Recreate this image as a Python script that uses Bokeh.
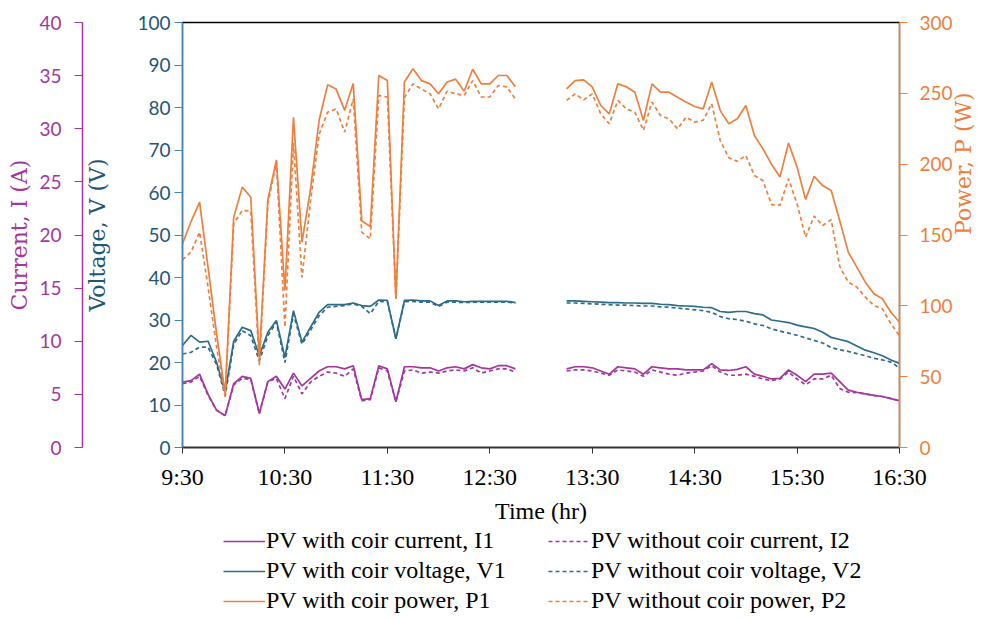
import math
from bokeh.plotting import figure
from bokeh.layouts import column
from bokeh.models import Range1d, LinearAxis, FixedTicker, Legend, LegendItem
from bokeh.embed import file_html
from bokeh.resources import INLINE

# ---------------- data ----------------
TIME_AM = ["9:30", "9:35", "9:40", "9:45", "9:50", "9:55", "10:00", "10:05", "10:10", "10:15",
           "10:20", "10:25", "10:30", "10:35", "10:40", "10:45", "10:50", "10:55", "11:00", "11:05",
           "11:10", "11:15", "11:20", "11:25", "11:30", "11:35", "11:40", "11:45", "11:50", "11:55",
           "12:00", "12:05", "12:10", "12:15", "12:20", "12:25", "12:30", "12:35", "12:40", "12:45"]
TIME_PM = ["13:15", "13:20", "13:25", "13:30", "13:35", "13:40", "13:45", "13:50", "13:55", "14:00",
           "14:05", "14:10", "14:15", "14:20", "14:25", "14:30", "14:35", "14:40", "14:45", "14:50",
           "14:55", "15:00", "15:05", "15:10", "15:15", "15:20", "15:25", "15:30", "15:35", "15:40",
           "15:45", "15:50", "15:55", "16:00", "16:05", "16:10", "16:15", "16:20", "16:25", "16:30"]
TICK_LABELS = ["9:30", "10:30", "11:30", "12:30", "13:30", "14:30", "15:30", "16:30"]

# Current (A)
I1_AM = [6.15, 6.3, 6.9, 5.0, 3.5, 3.0, 6.0, 6.7, 6.5, 3.2, 6.2, 6.7, 5.5, 7.0, 5.8, 6.5, 7.2, 7.6, 7.6, 7.4,
         7.7, 4.5, 4.6, 7.7, 7.4, 4.3, 7.6, 7.6, 7.5, 7.5, 7.2, 7.5, 7.6, 7.4, 7.8, 7.5, 7.4, 7.7, 7.7, 7.4]
I1_PM = [7.4, 7.6, 7.6, 7.5, 7.2, 6.9, 7.6, 7.5, 7.4, 6.9, 7.6, 7.5, 7.4, 7.4, 7.3, 7.3, 7.3, 7.9, 7.3, 7.25,
         7.35, 7.6, 6.9, 6.7, 6.45, 6.5, 7.3, 6.8, 6.2, 6.9, 6.9, 7.0, 6.2, 5.4, 5.2, 5.05, 4.9, 4.8, 4.6, 4.4]
I2_AM = [6.0, 6.15, 6.7, 4.9, 3.5, 3.0, 5.9, 6.5, 6.4, 3.2, 6.2, 6.5, 4.6, 6.7, 5.05, 6.15, 6.7, 7.1, 7.0, 6.7,
         7.4, 4.4, 4.5, 7.5, 7.2, 4.3, 7.2, 7.3, 7.0, 7.1, 7.0, 7.2, 7.3, 7.2, 7.5, 7.0, 7.2, 7.4, 7.4, 7.1]
I2_PM = [7.2, 7.3, 7.3, 7.2, 7.0, 6.8, 7.3, 7.2, 7.1, 6.7, 7.3, 7.1, 6.9, 6.8, 7.0, 7.1, 7.2, 7.7, 7.1, 6.8,
         6.8, 6.9, 6.7, 6.45, 6.3, 6.45, 7.1, 6.45, 5.9, 6.45, 6.45, 6.8, 5.55, 5.2, 5.15, 5.05, 4.9, 4.8, 4.6, 4.4]

# Voltage (V)
V1_AM = [24.0, 26.4, 24.8, 25.0, 20.0, 13.0, 25.0, 28.3, 27.5, 21.6, 27.1, 29.9, 21.2, 32.2, 24.8, 28.3, 31.8, 33.6, 33.6, 33.6,
         34.0, 33.4, 33.2, 34.7, 34.6, 25.6, 34.6, 34.7, 34.5, 34.5, 33.4, 34.5, 34.5, 34.3, 34.4, 34.4, 34.4, 34.4, 34.4, 34.1]
V1_PM = [34.5, 34.5, 34.4, 34.3, 34.2, 34.1, 34.1, 34.0, 34.0, 33.9, 33.9, 33.7, 33.6, 33.4, 33.3, 33.2, 33.0, 32.9, 32.0, 31.8,
         32.0, 32.0, 31.5, 31.2, 30.0, 29.7, 29.4, 28.8, 28.4, 28.0, 27.1, 25.9, 25.4, 24.9, 23.9, 22.9, 22.3, 21.6, 20.6, 19.8]
V2_AM = [22.0, 22.4, 23.6, 23.6, 19.5, 12.2, 24.3, 27.5, 26.3, 20.4, 26.3, 29.5, 20.0, 31.4, 24.3, 27.6, 31.0, 33.0, 33.2, 33.4,
         33.8, 33.2, 31.5, 34.4, 34.3, 25.6, 34.3, 34.4, 34.2, 34.2, 33.2, 34.2, 34.2, 34.1, 34.2, 34.2, 34.2, 34.2, 34.2, 34.0]
V2_PM = [34.0, 34.0, 33.9, 33.8, 33.7, 33.6, 33.5, 33.5, 33.4, 33.3, 33.3, 33.1, 33.0, 32.8, 32.6, 32.4, 32.2, 31.8, 30.8, 30.3,
         30.1, 29.7, 29.1, 28.7, 27.9, 27.4, 26.9, 26.4, 25.8, 25.2, 24.6, 23.5, 23.0, 22.6, 22.1, 21.6, 21.0, 20.6, 20.1, 18.7]

# Power (W)
P1_AM = [143.8, 159.5, 173.2, 127.0, 80.0, 38.0, 162.6, 183.8, 176.7, 63.0, 175.0, 203.0, 110.8, 233.0, 145.0, 182.6, 230.8, 256.0, 253.0, 238.0,
         257.0, 160.0, 156.0, 262.6, 259.0, 105.0, 258.0, 267.3, 259.0, 256.7, 249.7, 258.0, 260.0, 251.5, 267.0, 256.7, 256.7, 262.6, 262.6, 254.6]
P1_PM = [253.2, 259.0, 259.5, 254.6, 241.4, 235.5, 256.7, 254.6, 250.8, 230.8, 256.7, 250.8, 250.8, 247.3, 243.8, 240.7, 239.0, 258.0, 237.8, 228.5,
         232.0, 241.4, 220.2, 210.8, 200.0, 191.0, 215.0, 197.9, 175.0, 191.5, 184.9, 181.4, 160.0, 137.9, 127.3, 116.7, 108.5, 105.0, 95.5, 88.5]
P2_AM = [132.5, 137.9, 152.0, 113.0, 70.8, 35.5, 158.0, 167.3, 167.0, 58.0, 172.0, 201.4, 85.0, 215.0, 120.0, 174.0, 221.0, 236.7, 239.0, 222.6,
         246.0, 152.0, 147.3, 248.5, 247.4, 105.0, 247.0, 256.7, 253.0, 249.7, 239.0, 251.5, 249.7, 248.5, 259.0, 247.4, 247.4, 255.5, 254.6, 246.0]
P2_PM = [245.0, 249.6, 245.4, 249.6, 235.5, 228.5, 245.0, 239.0, 236.6, 223.8, 243.8, 234.4, 232.0, 224.9, 233.2, 229.7, 231.0, 242.6, 216.7, 204.5,
         202.0, 206.1, 192.0, 188.5, 171.5, 171.0, 189.7, 172.0, 148.5, 163.3, 156.7, 160.8, 127.8, 116.7, 113.2, 106.1, 100.2, 97.9, 87.3, 79.0]


def to_hours(s):
    h, m = s.split(":")
    return int(h) + int(m) / 60.0


X_AM = [to_hours(t) for t in TIME_AM]
X_PM = [to_hours(t) for t in TIME_PM]
TICKS = [to_hours(t) for t in TICK_LABELS]

# ---------------- styling ----------------
CUR = "#A4369F"
CUR_TXT = "#A4379F"
VOL = "#2D6C8C"
VOL_AXIS = "#4189B3"
VOL_TXT = "#1F5876"
POW = "#EF7F3D"
POW_TXT = "#EF7F3D"

SERIF = "Liberation Serif"
TITLE_FONT = "DejaVu Serif"
TICK_FONT = "Lato"

MAIN_H = 526
LEG_H = 618 - MAIN_H

p = figure(width=991, height=MAIN_H, x_range=Range1d(9.5, 16.5), y_range=Range1d(0, 100),
           output_backend="svg", toolbar_location=None,
           min_border_left=182, min_border_right=90, min_border_top=22, min_border_bottom=MAIN_H - 447)
p.extra_y_ranges = {"current": Range1d(0, 40), "power": Range1d(0, 300)}
p.xgrid.visible = False
p.ygrid.visible = False
p.outline_line_color = "black"
p.outline_line_width = 1.3
p.background_fill_color = "white"
p.border_fill_color = "white"

# x axis
xa = p.xaxis[0]
xa.ticker = FixedTicker(ticks=TICKS)
xa.major_label_overrides = {t: lbl for t, lbl in zip(TICKS, TICK_LABELS)}
xa.minor_tick_line_color = None
xa.major_tick_out = 6
xa.major_tick_in = 0
xa.axis_line_color = "#333333"
xa.axis_line_width = 1.3
xa.major_tick_line_color = "#333333"
xa.major_label_text_font = SERIF
xa.major_label_text_font_size = "24px"
xa.major_label_text_color = "black"
xa.major_label_standoff = 10
xa.axis_label = "Time (hr)"
xa.axis_label_text_font = SERIF
xa.axis_label_text_font_size = "24px"
xa.axis_label_text_font_style = "normal"
xa.axis_label_text_color = "black"
xa.axis_label_standoff = 5

# voltage axis (default left)
va = p.yaxis[0]
va.ticker = FixedTicker(ticks=[0, 10, 20, 30, 40, 50, 60, 70, 80, 90, 100])
va.minor_tick_line_color = None
va.major_tick_out = 8
va.major_tick_in = 0
va.axis_line_color = VOL_AXIS
va.axis_line_width = 1.5
va.major_tick_line_color = VOL_AXIS
va.major_label_text_font = TICK_FONT
va.major_label_text_font_size = "19px"
va.major_label_text_color = VOL_TXT
va.major_label_standoff = 4
va.axis_label = "Voltage, V (V)"
va.axis_label_text_font = TITLE_FONT
va.axis_label_text_font_size = "22px"
va.axis_label_text_font_style = "normal"
va.axis_label_text_color = VOL_TXT
va.axis_label_standoff = 24

# current axis (outer left)
ca = LinearAxis(y_range_name="current", ticker=FixedTicker(ticks=[0, 5, 10, 15, 20, 25, 30, 35, 40]))
ca.minor_tick_line_color = None
ca.major_tick_out = 8
ca.major_tick_in = 0
ca.axis_line_color = CUR
ca.axis_line_width = 1.5
ca.major_tick_line_color = CUR
ca.major_label_text_font = TICK_FONT
ca.major_label_text_font_size = "19px"
ca.major_label_text_color = CUR_TXT
ca.major_label_standoff = 13
ca.axis_label = "Current, I (A)"
ca.axis_label_text_font = TITLE_FONT
ca.axis_label_text_font_size = "22px"
ca.axis_label_text_font_style = "normal"
ca.axis_label_text_color = CUR_TXT
ca.axis_label_standoff = 4
p.add_layout(ca, "left")

# power axis (right)
pa = LinearAxis(y_range_name="power", ticker=FixedTicker(ticks=[0, 50, 100, 150, 200, 250, 300]))
pa.minor_tick_line_color = None
pa.major_tick_out = 8
pa.major_tick_in = 0
pa.axis_line_color = POW
pa.axis_line_width = 1.5
pa.major_tick_line_color = POW
pa.major_label_text_font = TICK_FONT
pa.major_label_text_font_size = "19px"
pa.major_label_text_color = POW_TXT
pa.major_label_standoff = 12
pa.axis_label = "Power, P (W)"
pa.axis_label_text_font = TITLE_FONT
pa.axis_label_text_font_size = "22px"
pa.axis_label_text_font_style = "normal"
pa.axis_label_text_color = POW_TXT
pa.axis_label_standoff = 8
pa.axis_label_orientation = math.pi / 2
p.add_layout(pa, "right")

# ---------------- lines ----------------
DASH = "4 3"
series = [
    ("PV with coir current, I1", I1_AM, I1_PM, "current", CUR, "solid"),
    ("PV without coir current, I2", I2_AM, I2_PM, "current", CUR, DASH),
    ("PV with coir voltage, V1", V1_AM, V1_PM, "default", VOL, "solid"),
    ("PV without coir voltage, V2", V2_AM, V2_PM, "default", VOL, DASH),
    ("PV with coir power, P1", P1_AM, P1_PM, "power", POW, "solid"),
    ("PV without coir power, P2", P2_AM, P2_PM, "power", POW, DASH),
]

for label, ys_am, ys_pm, rng, color, dash in series:
    p.line(X_AM, ys_am, y_range_name=rng, line_color=color, line_width=1.7, line_dash=dash)
    p.line(X_PM, ys_pm, y_range_name=rng, line_color=color, line_width=1.7, line_dash=dash)

# ---------------- legend strip below the chart ----------------
# (its frame is aligned with the chart frame by the column layout: x 182..901)
q = figure(width=991, height=LEG_H, x_range=Range1d(0, 1), y_range=Range1d(0, 1),
           x_axis_type=None, y_axis_type=None, output_backend="svg", toolbar_location=None,
           min_border_left=0, min_border_right=0, min_border_top=0, min_border_bottom=0)
q.xgrid.visible = False
q.ygrid.visible = False
q.outline_line_color = None
q.background_fill_color = "white"
q.border_fill_color = "white"

items = {}
for label, ys_am, ys_pm, rng, color, dash in series:
    # same series drawn outside this strip's visible range: only its legend sample shows
    r = q.line(X_AM, ys_am, line_color=color, line_width=1.7, line_dash=dash)
    items[label] = LegendItem(label=label, renderers=[r])


def make_legend(labels, loc):
    return Legend(items=[items[k] for k in labels], location=loc, orientation="vertical",
                  label_text_font=SERIF, label_text_font_size="24px", label_text_color="black",
                  glyph_width=42, glyph_height=20, label_standoff=1, label_height=24,
                  spacing=3, padding=0, margin=0,
                  border_line_color=None, background_fill_alpha=0)


left_col = [s[0] for s in series[0::2]]
right_col = [s[0] for s in series[1::2]]
q.add_layout(make_legend(left_col, (41, 4)))
q.add_layout(make_legend(right_col, (366, 4)))

open("out.html", "w").write(file_html(column(p, q), INLINE))
